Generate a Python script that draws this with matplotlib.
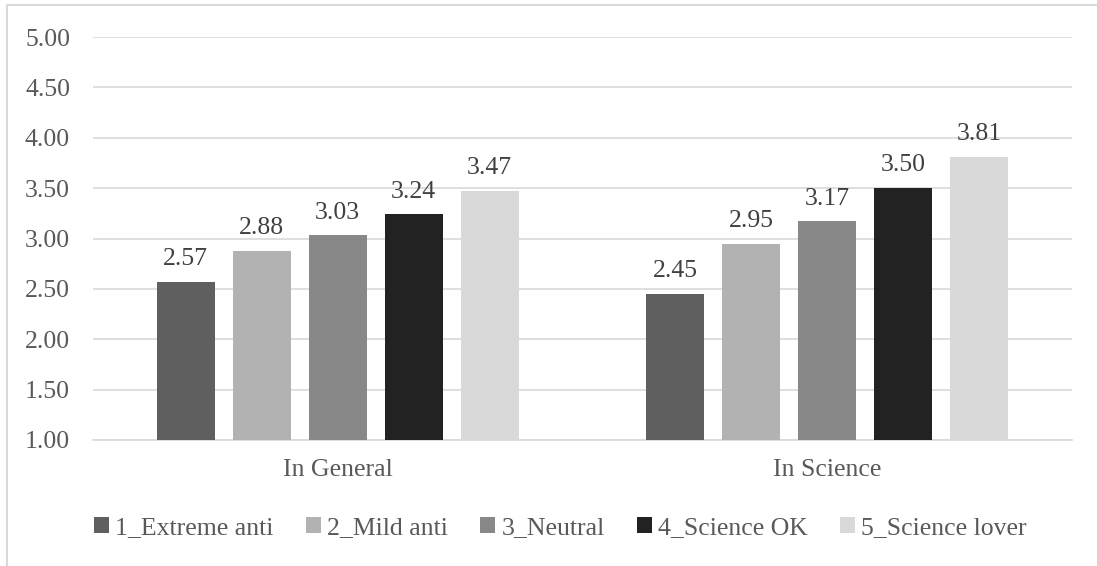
import matplotlib
matplotlib.use("Agg")
import matplotlib.pyplot as plt
import numpy as np
from matplotlib.lines import Line2D
from matplotlib.patches import Patch

categories = ["In General", "In Science"]
series_names = ["1_Extreme anti", "2_Mild anti", "3_Neutral", "4_Science OK", "5_Science lover"]
values = {
    "1_Extreme anti": [2.57, 2.45],
    "2_Mild anti": [2.88, 2.95],
    "3_Neutral": [3.03, 3.17],
    "4_Science OK": [3.24, 3.50],
    "5_Science lover": [3.47, 3.81],
}
colors = ["#5f5f5f", "#b2b2b2", "#888888", "#222222", "#d9d9d9"]
yticks = [1.00, 1.50, 2.00, 2.50, 3.00, 3.50, 4.00, 4.50, 5.00]

plt.rcParams['font.family'] = ['Liberation Serif', 'DejaVu Serif']
txt = "#595959"
fs = 18.5

W, H = 1097, 566
fig = plt.figure(figsize=(W/100, H/100), dpi=100)
ax = fig.add_axes([93/W, 1-440/H, (1072-93)/W, (440-37)/H])

bw = 58/489.5
step = 76/489.5
x = np.arange(len(categories))
for i, name in enumerate(series_names):
    pos = x + (i-2)*step
    vals = np.array(values[name])
    ax.bar(pos, vals-1.0, bottom=1.0, width=bw, color=colors[i], zorder=3)
    for p, v in zip(pos, vals):
        ax.annotate(f"{v:.2f}", (p, v), xytext=(0, 8.5), textcoords="offset points",
                    ha="center", va="bottom", fontsize=fs, color="#404040")

ax.set_xlim(-0.5, 1.5)
ax.set_ylim(1.0, 5.0)
ax.set_yticks(yticks)
ax.set_yticklabels([f"{t:.2f}" for t in yticks])
ax.grid(axis="y", color="#d9d9d9", linewidth=1.2, zorder=0)
ax.tick_params(axis="y", length=0, pad=16.5, labelsize=fs, labelcolor=txt)
ax.set_xticks(x)
ax.set_xticklabels(categories)
ax.tick_params(axis="x", length=0, pad=13.5, labelsize=fs, labelcolor=txt)
for s in ["top", "right", "left"]:
    ax.spines[s].set_visible(False)
ax.spines["bottom"].set_color("#d9d9d9")
ax.spines["bottom"].set_linewidth(1.2)

handles = [Patch(facecolor=c, edgecolor="none") for c in colors]
fig.legend(handles, series_names, loc="center", bbox_to_anchor=(560.5/W, 1-528/H),
           ncol=5, frameon=False, fontsize=fs, labelcolor=txt,
           handlelength=0.58, handleheight=0.58, handletextpad=0.25, columnspacing=1.25,
           borderpad=0, borderaxespad=0)

# chart border (top and left visible)
fig.add_artist(Line2D([7/W, 1], [1-5/H, 1-5/H], color="#d9d9d9", linewidth=1.5, transform=fig.transFigure))
fig.add_artist(Line2D([7/W, 7/W], [0, 1-5/H], color="#d9d9d9", linewidth=1.5, transform=fig.transFigure))

fig.savefig("out.png", dpi=100)
